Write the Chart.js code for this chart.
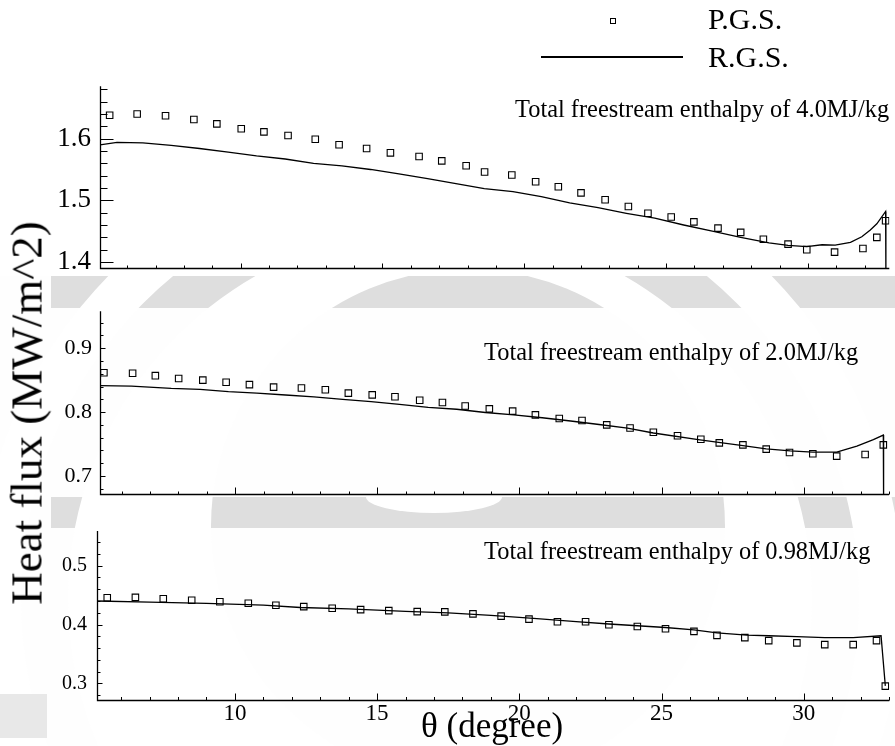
<!DOCTYPE html>
<html>
<head>
<meta charset="utf-8">
<script src="https://cdn.jsdelivr.net/npm/chart.js@4/dist/chart.umd.min.js"></script>
<style>
  html, body { margin: 0; padding: 0; background: #fff; }
  #wrap { position: relative; width: 895px; height: 746px; overflow: hidden;
          font-family: "Liberation Serif", "Times New Roman", serif; color: #000; }
  #wrap canvas { position: absolute; left: 0; }
  .txt { position: absolute; white-space: nowrap; line-height: 1; }
</style>
</head>
<body>
<div id="wrap">
  <canvas id="bg" width="895" height="746" style="top:0"></canvas>
  <canvas id="p1" width="895" height="233" style="top:61px"></canvas>
  <canvas id="p2" width="895" height="226" style="top:290px"></canvas>
  <canvas id="p3" width="895" height="237" style="top:509px"></canvas>

  <!-- legend -->
  <div style="position:absolute;left:610px;top:18px;width:4px;height:4px;border:1px solid #000;"></div>
  <div class="txt" style="left:708px;top:4px;font-size:30px;">P.G.S.</div>
  <div style="position:absolute;left:541px;top:56px;width:142px;height:1.5px;background:#000;"></div>
  <div class="txt" style="left:708px;top:42px;font-size:30px;">R.G.S.</div>

  <!-- panel captions -->
  <div class="txt" style="left:515px;top:97px;font-size:24.4px;">Total freestream enthalpy of 4.0MJ/kg</div>
  <div class="txt" style="left:484px;top:340px;font-size:24.4px;">Total freestream enthalpy of 2.0MJ/kg</div>
  <div class="txt" style="left:484px;top:539px;font-size:24.4px;">Total freestream enthalpy of 0.98MJ/kg</div>

  <!-- axis titles -->
  <div class="txt" style="left:421px;top:708px;font-size:35px;">θ (degree)</div>
  <div class="txt" style="left:27px;top:413px;font-size:45px;transform:translate(-50%,-50%) rotate(-90deg);">Heat flux (MW/m^2)</div>
</div>

<script>
// ---- Total freestream enthalpy 4.0 MJ/kg ----
const thetaPGS40 = [5.38, 6.35, 7.35, 8.35, 9.16, 10.02, 10.82, 11.67, 12.63, 13.47, 14.44, 15.28, 16.29, 17.09, 17.95, 18.6, 19.56, 20.4, 21.2, 22.0, 22.85, 23.67, 24.36, 25.18, 25.98, 26.83, 27.63, 28.43, 29.3, 29.96, 30.94, 31.94, 32.43, 32.74];
const qPGS40     = [1.638, 1.640, 1.637, 1.631, 1.624, 1.616, 1.611, 1.605, 1.599, 1.590, 1.584, 1.577, 1.571, 1.564, 1.556, 1.546, 1.541, 1.530, 1.522, 1.512, 1.501, 1.490, 1.479, 1.473, 1.465, 1.455, 1.448, 1.437, 1.429, 1.420, 1.416, 1.422, 1.440, 1.467];
const thetaRGS40 = [5.04, 5.64, 6.55, 7.55, 8.55, 9.56, 10.56, 11.57, 12.57, 13.57, 14.58, 15.58, 16.59, 17.59, 18.59, 19.6, 20.6, 21.6, 22.6, 23.6, 24.6, 25.62, 26.63, 27.63, 28.63, 29.3, 29.96, 30.5, 30.96, 31.5, 31.9, 32.2, 32.43, 32.74, 32.75];
const qRGS40     = [1.590, 1.594, 1.593, 1.589, 1.584, 1.578, 1.572, 1.567, 1.560, 1.556, 1.550, 1.543, 1.535, 1.527, 1.519, 1.514, 1.506, 1.496, 1.488, 1.479, 1.471, 1.460, 1.450, 1.440, 1.431, 1.427, 1.425, 1.428, 1.4275, 1.432, 1.441, 1.452, 1.462, 1.482, 1.380];

// ---- Total freestream enthalpy 2.0 MJ/kg ----
const thetaPGS20 = [5.38, 6.39, 7.19, 8.01, 8.86, 9.68, 10.5, 11.35, 12.33, 13.17, 13.98, 14.82, 15.62, 16.49, 17.29, 18.09, 18.94, 19.76, 20.56, 21.4, 22.2, 23.07, 23.89, 24.71, 25.56, 26.38, 27.03, 27.86, 28.68, 29.5, 30.32, 31.16, 32.16, 32.8];
const qPGS20     = [0.8615, 0.8607, 0.857, 0.8526, 0.850, 0.8467, 0.843, 0.839, 0.8378, 0.835, 0.8296, 0.827, 0.824, 0.8185, 0.815, 0.8096, 0.805, 0.8015, 0.7956, 0.790, 0.7867, 0.780, 0.775, 0.7683, 0.763, 0.7574, 0.7517, 0.7486, 0.742, 0.7366, 0.7346, 0.731, 0.7335, 0.7486];
const thetaRGS20 = [5.24, 6.35, 7.75, 8.76, 9.76, 10.76, 11.77, 12.77, 13.78, 14.78, 15.78, 16.79, 17.79, 18.8, 19.8, 20.8, 21.8, 22.8, 23.8, 24.71, 26.35, 27.86, 28.68, 29.52, 30.32, 31.16, 31.87, 32.45, 32.8, 32.81];
const qRGS20     = [0.8415, 0.8407, 0.837, 0.8356, 0.832, 0.8296, 0.8267, 0.8237, 0.820, 0.8163, 0.8119, 0.8074, 0.8044, 0.7993, 0.7956, 0.7911, 0.786, 0.7805, 0.775, 0.7672, 0.7563, 0.7475, 0.7423, 0.7392, 0.7372, 0.7372, 0.7465, 0.7568, 0.764, 0.660];

// ---- Total freestream enthalpy 0.98 MJ/kg ----
const thetaPGS098 = [5.51, 6.50, 7.48, 8.48, 9.47, 10.47, 11.44, 12.42, 13.42, 14.42, 15.41, 16.41, 17.38, 18.37, 19.36, 20.34, 21.34, 22.33, 23.15, 24.15, 25.14, 26.14, 26.95, 27.93, 28.77, 29.76, 30.74, 31.74, 32.56, 32.87];
const qPGS098     = [0.4455, 0.4462, 0.4439, 0.4412, 0.4388, 0.4361, 0.4328, 0.4304, 0.4277, 0.4254, 0.4237, 0.422, 0.4215, 0.4182, 0.4143, 0.4092, 0.4047, 0.4047, 0.3997, 0.3968, 0.3929, 0.3884, 0.3817, 0.3778, 0.3728, 0.3689, 0.366, 0.366, 0.3728, 0.2955];
const thetaRGS098 = [5.15, 7.0, 9.0, 11.0, 12.3, 14.0, 16.0, 17.5, 19.0, 20.5, 22.0, 23.15, 24.15, 25.14, 26.14, 26.95, 28.0, 28.77, 29.76, 30.74, 31.74, 32.72, 32.87];
const qRGS098     = [0.440, 0.438, 0.436, 0.433, 0.429, 0.4265, 0.4225, 0.420, 0.4155, 0.4105, 0.405, 0.401, 0.398, 0.395, 0.391, 0.386, 0.382, 0.381, 0.3795, 0.378, 0.378, 0.381, 0.296];

// tick label steps
const thetaMajorStep = 5;
const heatMajorStep = 0.1;

const SERIF = '"Liberation Serif", "Times New Roman", serif';

// ---- faint seal drawn behind the panels ----
function seal(ctx) {
  ctx.fillStyle = '#dedede';
  ctx.beginPath();
  ctx.arc(440, 599, 600, 0, Math.PI * 2);
  ctx.arc(440, 599, 463, 0, Math.PI * 2, true);
  ctx.fill();
  ctx.beginPath();
  ctx.arc(440, 599, 419, 0, Math.PI * 2);
  ctx.arc(440, 599, 372, 0, Math.PI * 2, true);
  ctx.fill();
  ctx.beginPath();
  ctx.arc(468, 526, 257, 0, Math.PI * 2);
  ctx.fill();
  ctx.fillStyle = '#fff';
  ctx.beginPath();
  ctx.ellipse(434, 497, 68, 16, 0, 0, Math.PI * 2);
  ctx.fill();
}
(function drawBackground() {
  const g = document.getElementById('bg').getContext('2d');
  g.fillStyle = '#fff';
  g.fillRect(0, 0, 895, 746);
  g.save();
  g.beginPath(); g.rect(0, 276, 895, 470); g.clip();
  g.globalAlpha = 0.04;
  seal(g);
  g.restore();
  [[51, 276, 844, 32], [51, 497, 844, 31]].forEach(r => {
    g.save();
    g.beginPath(); g.rect(r[0], r[1], r[2], r[3]); g.clip();
    g.fillStyle = '#fff'; g.fillRect(r[0], r[1], r[2], r[3]);
    seal(g);
    g.restore();
  });
  g.fillStyle = '#e8e8e8';
  g.fillRect(0, 694, 47, 44);
})();

// ---- axis lines with inward major/minor ticks ----
const framePlugin = {
  id: 'frame',
  afterDraw(chart, args, o) {
    const { ctx, chartArea: a } = chart;
    const x = chart.scales.x, y = chart.scales.y;
    const L = Math.round(a.left) + 0.5, B = Math.round(a.bottom) - 0.5;
    ctx.save();
    ctx.strokeStyle = '#000';
    ctx.lineWidth = 1.3;
    ctx.beginPath();
    ctx.moveTo(L, a.top);
    ctx.lineTo(L, B);
    ctx.lineTo(a.right, B);
    ctx.stroke();
    ctx.lineWidth = 1;
    ctx.beginPath();
    for (let k = Math.ceil(y.min * 50 - 1e-6); k <= Math.floor(y.max * 50 + 1e-6); k++) {
      const py = Math.round(y.getPixelForValue(k / 50)) + 0.5;
      const len = (k % 5 === 0) ? o.yMajor : o.yMinor;
      ctx.moveTo(L, py); ctx.lineTo(L + len, py);
    }
    for (let k = Math.ceil(x.min - 1e-6); k <= Math.floor(x.max + 1e-6); k++) {
      const px = Math.round(x.getPixelForValue(k)) + 0.5;
      const len = (k % 5 === 0) ? o.xMajor : o.xMinor;
      ctx.moveTo(px, B); ctx.lineTo(px, B - len);
    }
    ctx.stroke();
    ctx.restore();
  }
};

const pairs = (xs, ys) => xs.map((v, i) => ({ x: v, y: ys[i] }));

function makePanel(id, p) {
  return new Chart(document.getElementById(id), {
    type: 'line',
    data: {
      datasets: [
        { label: 'R.G.S.', data: pairs(p.rx, p.ry), borderColor: '#000', borderWidth: 1.3,
          pointRadius: 0, fill: false, tension: 0, order: 2 },
        { label: 'P.G.S.', data: pairs(p.sx, p.sy), showLine: false, pointStyle: 'rect',
          pointRadius: 4.6, pointBorderWidth: 1.1, borderColor: '#000',
          backgroundColor: 'rgba(0,0,0,0)', order: 1 }
      ]
    },
    options: {
      responsive: false, animation: false, devicePixelRatio: 1,
      layout: { padding: p.pad },
      plugins: { legend: { display: false }, tooltip: { enabled: false }, frame: p.ticks },
      scales: {
        x: {
          type: 'linear', min: p.xmin, max: p.xmax, display: p.xLabels,
          grid: { display: false, drawTicks: false }, border: { display: false },
          ticks: { stepSize: thetaMajorStep, includeBounds: false, autoSkip: false, maxRotation: 0,
                   font: { family: SERIF, size: 23 }, color: '#000', padding: -1,
                   callback: v => String(Math.round(v)) },
          afterFit: s => { s.height = p.xh; }
        },
        y: {
          type: 'linear', min: p.ymin, max: p.ymax,
          grid: { display: false, drawTicks: false }, border: { display: false },
          ticks: { stepSize: heatMajorStep, includeBounds: false, autoSkip: false,
                   font: { family: SERIF, size: p.yFont }, color: '#000', padding: p.yPad,
                   callback: v => v.toFixed(1) },
          afterFit: s => { s.width = p.yw; }
        }
      }
    },
    plugins: [framePlugin]
  });
}

makePanel('p1', {
  sx: thetaPGS40, sy: qPGS40, rx: thetaRGS40, ry: qRGS40,
  xmin: 5.04, xmax: 32.87, ymin: 1.389, ymax: 1.685,
  xLabels: false, xh: 0, yw: 100, yFont: 27, yPad: 9,
  pad: { top: 20, bottom: 20, left: 0, right: 4 },
  ticks: { yMajor: 13, yMinor: 7, xMajor: 5, xMinor: 3 }
});
makePanel('p2', {
  sx: thetaPGS20, sy: qPGS20, rx: thetaRGS20, ry: qRGS20,
  xmin: 5.243, xmax: 33.0, ymin: 0.6704, ymax: 0.958,
  xLabels: false, xh: 0, yw: 100, yFont: 22, yPad: 8,
  pad: { top: 20, bottom: 20, left: 0, right: 6 },
  ticks: { yMajor: 5, yMinor: 3, xMajor: 7, xMinor: 3 }
});
makePanel('p3', {
  sx: thetaPGS098, sy: qPGS098, rx: thetaRGS098, ry: qRGS098,
  xmin: 5.15, xmax: 33.01, ymin: 0.2703, ymax: 0.5588,
  xLabels: true, xh: 30, yw: 97, yFont: 20, yPad: 10,
  pad: { top: 20, bottom: 15, left: 0, right: 5 },
  ticks: { yMajor: 5, yMinor: 3, xMajor: 7, xMinor: 3.5 }
});
</script>
</body>
</html>
